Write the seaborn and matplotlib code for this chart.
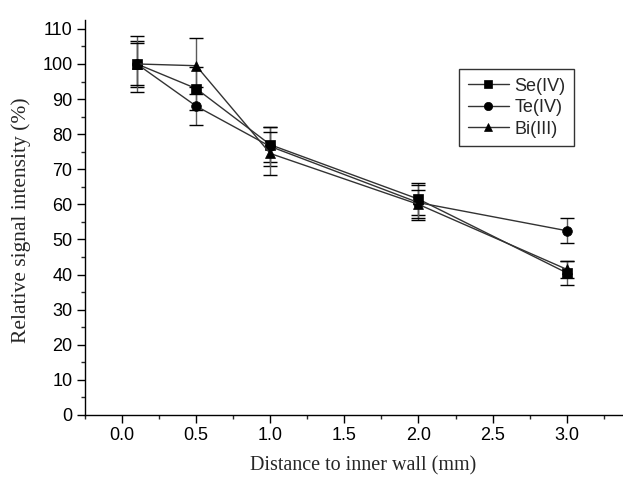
import matplotlib
matplotlib.use("Agg")
import matplotlib.pyplot as plt
import seaborn as sns
import pandas as pd
import numpy as np
from matplotlib.ticker import MultipleLocator

distance = [0.1, 0.5, 1.0, 2.0, 3.0]
se_vals = [100, 93, 77, 61.5, 40.5]
te_vals = [100, 88, 76.5, 60.5, 52.5]
bi_vals = [100, 99.5, 74.5, 60, 41.5]
se_err = [6.5, 6, 5, 4.5, 3.5]
te_err = [8, 5.5, 5.5, 5, 3.5]
bi_err = [6, 8, 6, 4, 2.5]
series_names = ["Se(IV)", "Te(IV)", "Bi(III)"]
x_ticks = [0.0, 0.5, 1.0, 1.5, 2.0, 2.5, 3.0]

sns.set_theme(style="ticks")
plt.rcParams['font.family'] = ['Liberation Sans', 'DejaVu Sans']

rows = []
for name, vals in zip(series_names, [se_vals, te_vals, bi_vals]):
    for x, v in zip(distance, vals):
        rows.append({"Distance": x, "Intensity": v, "Series": name})
df = pd.DataFrame(rows)

fig = plt.figure(figsize=(6.23, 4.78), dpi=100)
ax = fig.add_axes([0.1364, 0.1318, 0.8636, 0.8262])

for vals, errs in zip([se_vals, te_vals, bi_vals], [se_err, te_err, bi_err]):
    ax.errorbar(distance, vals, yerr=errs, fmt='none', ecolor='#5a5a5a',
                elinewidth=1.0, capsize=5, capthick=1.0, zorder=1)

sns.lineplot(data=df, x="Distance", y="Intensity", hue="Series", style="Series",
             markers={"Se(IV)": "s", "Te(IV)": "o", "Bi(III)": "^"},
             dashes=False, palette={n: "#333333" for n in series_names},
             markersize=7, markeredgewidth=0.5,
             linewidth=1.0, ax=ax, zorder=2, legend=True)
for line in ax.lines:
    line.set_markerfacecolor('black')
    line.set_markeredgecolor('black')

ax.set_xlim(-0.25, 3.38)
ax.set_ylim(0, 112.5)
ax.xaxis.set_minor_locator(MultipleLocator(0.25))
ax.yaxis.set_major_locator(MultipleLocator(10))
ax.yaxis.set_minor_locator(MultipleLocator(5))
ax.set_xticks(x_ticks)
ax.set_xticklabels([f"{v:.1f}" for v in x_ticks])
ax.tick_params(which='major', direction='out', length=6, width=1, labelsize=13,
               colors='black', pad=3)
ax.tick_params(which='minor', direction='out', length=3, width=1)
ax.spines['top'].set_visible(False)
ax.spines['right'].set_visible(False)
for s in ['left', 'bottom']:
    ax.spines[s].set_color('black')
    ax.spines[s].set_linewidth(1.0)

ax.set_xlabel("Distance to inner wall (mm)", family=['Liberation Serif'], fontsize=14.5)
ax.set_ylabel("Relative signal intensity (%)", family=['Liberation Serif'], fontsize=15.5)
ax.xaxis.set_label_coords(0.517, -0.105)
ax.yaxis.set_label_coords(-0.10, 0.494)

leg = ax.legend(loc='upper left', bbox_to_anchor=(0.696, 0.875), fontsize=13,
                frameon=True, fancybox=False, edgecolor='black', handlelength=2.3,
                borderpad=0.45, labelspacing=0.25, handletextpad=0.3, borderaxespad=0)
leg.get_frame().set_linewidth(1.0)
for h in leg.legend_handles:
    h.set_color('#333333')
    h.set_markerfacecolor('black')
    h.set_markeredgecolor('black')
    h.set_markersize(6)

fig.savefig("out.png", dpi=100)
